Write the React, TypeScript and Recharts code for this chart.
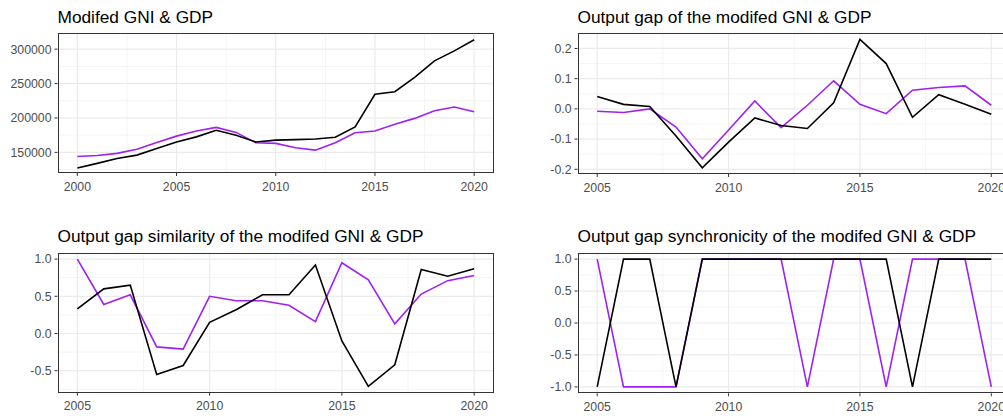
import React from 'react'
import { LineChart, Line, XAxis, YAxis, CartesianGrid } from 'recharts'

// black = GDP, purple = modified GNI
const yearsLong = [2000, 2001, 2002, 2003, 2004, 2005, 2006, 2007, 2008, 2009, 2010, 2011, 2012, 2013, 2014, 2015, 2016, 2017, 2018, 2019, 2020]
const gdpLevel = [127400, 134000, 141000, 146000, 155500, 165000, 172500, 182000, 175000, 165000, 167800, 168500, 169500, 172000, 187000, 234400, 238200, 259000, 283000, 297500, 313600]
const gniLevel = [144000, 145500, 148500, 154500, 164500, 173600, 181000, 186300, 179000, 164000, 163000, 156600, 153200, 164000, 178400, 181000, 191000, 199400, 210500, 216000, 209000]

const yearsShort = [2005, 2006, 2007, 2008, 2009, 2010, 2011, 2012, 2013, 2014, 2015, 2016, 2017, 2018, 2019, 2020]
const gdpGap = [0.041, 0.015, 0.008, -0.09, -0.195, -0.11, -0.03, -0.055, -0.065, 0.02, 0.23, 0.15, -0.028, 0.047, 0.015, -0.018]
const gniGap = [-0.008, -0.012, 0.0, -0.06, -0.165, -0.07, 0.026, -0.062, 0.012, 0.093, 0.015, -0.016, 0.062, 0.071, 0.076, 0.012]

const gdpSim = [0.33, 0.6, 0.65, -0.55, -0.43, 0.15, 0.32, 0.52, 0.52, 0.92, -0.1, -0.71, -0.42, 0.86, 0.77, 0.87]
const gniSim = [1.0, 0.39, 0.52, -0.18, -0.21, 0.5, 0.44, 0.44, 0.38, 0.16, 0.95, 0.72, 0.13, 0.53, 0.71, 0.78]

const gdpSync = [-1, 1, 1, -1, 1, 1, 1, 1, 1, 1, 1, 1, -1, 1, 1, 1]
const gniSync = [1, -1, -1, -1, 1, 1, 1, 1, -1, 1, 1, -1, 1, 1, 1, -1]

const levelTicks = [150000, 200000, 250000, 300000]
const levelMinor = [125000, 175000, 225000, 275000]
const gapTicks = [-0.2, -0.1, 0.0, 0.1, 0.2]
const gapMinor = [-0.15, -0.05, 0.05, 0.15, 0.25]
const unitTicks = [-1.0, -0.5, 0.0, 0.5, 1.0]
const simTicks = [-0.5, 0.0, 0.5, 1.0]
const unitMinor = [-0.75, -0.25, 0.25, 0.75]
const longXTicks = [2000, 2005, 2010, 2015, 2020]
const longXMinor = [2002.5, 2007.5, 2012.5, 2017.5]
const shortXTicks = [2005, 2010, 2015, 2020]
const shortXMinor = [2007.5, 2012.5, 2017.5]

const toRows = (years: number[], black: number[], purple: number[]) =>
  years.map((year, i) => ({ year, black: black[i], purple: purple[i] }))

const FONT = '"Liberation Sans", Arial, sans-serif'
const tickStyle = { fontSize: 12.3, fill: '#4d4d4d', fontFamily: FONT }

interface PanelProps {
  title: string
  rows: { year: number; black: number; purple: number }[]
  left: number
  top: number
  width: number
  height: number
  plotLeft: number
  plotTop: number
  plotRight: number
  plotBottom: number
  xDomain: [number, number]
  xTicks: number[]
  xMinor: number[]
  yDomain: [number, number]
  yTicks: number[]
  yMinor: number[]
  yFormat: (v: number) => string
}

function Panel(p: PanelProps) {
  const margin = { top: p.plotTop - p.top, right: p.left + p.width - p.plotRight, left: 0, bottom: 0 }
  return (
    <>
      <div style={{ position: 'absolute', left: p.plotLeft, top: p.plotTop - 24.5, fontSize: 17.3, lineHeight: '17px', fontFamily: FONT, color: '#000', whiteSpace: 'nowrap' }}>
        {p.title}
      </div>
      <div style={{ position: 'absolute', left: p.left, top: p.top }}>
        <LineChart width={p.width} height={p.height} data={p.rows} margin={margin}>
          <CartesianGrid stroke="#f4f4f4" strokeWidth={1} horizontalValues={p.yMinor} verticalValues={p.xMinor} />
          <CartesianGrid stroke="#ebebeb" strokeWidth={1.2} horizontalValues={p.yTicks} verticalValues={p.xTicks} />
          <XAxis dataKey="year" type="number" domain={p.xDomain} ticks={p.xTicks} allowDataOverflow
            height={p.top + p.height - p.plotBottom} tick={tickStyle} tickSize={3} tickMargin={6}
            axisLine={false} tickLine={{ stroke: '#333' }} />
          <YAxis type="number" domain={p.yDomain} ticks={p.yTicks} allowDataOverflow width={p.plotLeft - p.left}
            tick={tickStyle} tickSize={3} tickMargin={3} tickFormatter={p.yFormat}
            axisLine={false} tickLine={{ stroke: '#333' }} />
          <Line type="linear" dataKey="purple" stroke="#a020f0" strokeWidth={1.6} dot={false} isAnimationActive={false} />
          <Line type="linear" dataKey="black" stroke="#000000" strokeWidth={1.6} dot={false} isAnimationActive={false} />
        </LineChart>
      </div>
      <div style={{ position: 'absolute', left: p.plotLeft, top: p.plotTop, width: p.plotRight - p.plotLeft, height: p.plotBottom - p.plotTop, border: '1px solid #333', boxSizing: 'border-box', pointerEvents: 'none' }} />
    </>
  )
}

const fmt1 = (v: number) => v.toFixed(1)
const fmtInt = (v: number) => String(v)

export default function App() {
  return (
    <div style={{ position: 'absolute', left: 0, top: 0, width: 1003, height: 416, overflow: 'hidden', background: '#fff' }}>
      <Panel title="Modifed GNI & GDP" rows={toRows(yearsLong, gdpLevel, gniLevel)}
        left={0} top={0} width={500} height={205} plotLeft={57.5} plotTop={33} plotRight={494} plotBottom={173}
        xDomain={[1999, 2021]} xTicks={longXTicks} xMinor={longXMinor}
        yDomain={[120000, 323500]} yTicks={levelTicks} yMinor={levelMinor} yFormat={fmtInt} />
      <Panel title="Output gap of the modifed GNI & GDP" rows={toRows(yearsShort, gdpGap, gniGap)}
        left={500} top={0} width={520} height={205} plotLeft={577.5} plotTop={33} plotRight={1011} plotBottom={174}
        xDomain={[2004.25, 2020.75]} xTicks={shortXTicks} xMinor={shortXMinor}
        yDomain={[-0.2156, 0.2512]} yTicks={gapTicks} yMinor={gapMinor} yFormat={fmt1} />
      <Panel title="Output gap similarity of the modifed GNI & GDP" rows={toRows(yearsShort, gdpSim, gniSim)}
        left={0} top={210} width={500} height={206} plotLeft={57.5} plotTop={252.7} plotRight={494} plotBottom={392.7}
        xDomain={[2004.25, 2020.75]} xTicks={shortXTicks} xMinor={shortXMinor}
        yDomain={[-0.7955, 1.0855]} yTicks={simTicks} yMinor={unitMinor} yFormat={fmt1} />
      <Panel title="Output gap synchronicity of the modifed GNI & GDP" rows={toRows(yearsShort, gdpSync, gniSync)}
        left={500} top={210} width={520} height={206} plotLeft={577.5} plotTop={252.7} plotRight={1011} plotBottom={393.3}
        xDomain={[2004.25, 2020.75]} xTicks={shortXTicks} xMinor={shortXMinor}
        yDomain={[-1.1, 1.1]} yTicks={unitTicks} yMinor={unitMinor} yFormat={fmt1} />
    </div>
  )
}
